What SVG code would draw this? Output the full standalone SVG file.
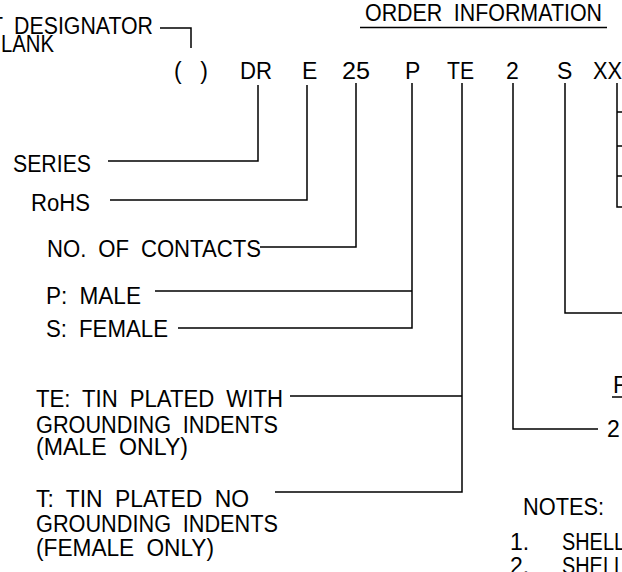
<svg xmlns="http://www.w3.org/2000/svg" width="622" height="572" viewBox="0 0 622 572">
<style>
.t{font-family:"Liberation Sans",Arial,sans-serif;font-size:23px;fill:#000;word-spacing:6px}
.c{fill:none;stroke:#000;stroke-width:1.5}
</style>
<rect width="622" height="572" fill="#fff"/>
<g id="connectors" class="c">
<path d="M160,28 H191 V48"/>
<path d="M258,85 V161 H108"/>
<path d="M307,85 V200 H110"/>
<path d="M356,83 V247 H260"/>
<path d="M412,83 V328 H178 M155,291 H412"/>
<path d="M462,83 V492 H275 M290,396 H462"/>
<path d="M513,83 V429 H598"/>
<path d="M565,83 V313 H622"/>
<path d="M617,83 V207 H622 M617,112 H622 M617,146 H622 M617,176 H622"/>
<path d="M360,27.5 H607"/>
<path d="M612,397 H622"/>
</g>
<g id="designator"><text class="t" x="-10" y="34" textLength="163" lengthAdjust="spacingAndGlyphs">T DESIGNATOR</text><text class="t" x="1" y="52" textLength="53" lengthAdjust="spacingAndGlyphs">LANK</text></g>
<g id="title"><text class="t" x="365" y="21" textLength="237" lengthAdjust="spacingAndGlyphs">ORDER INFORMATION</text></g>
<g id="code">
<text class="t" x="174" y="79" textLength="34">( )</text>
<text class="t" x="240" y="79" textLength="32" lengthAdjust="spacingAndGlyphs">DR</text>
<text class="t" x="302" y="79">E</text>
<text class="t" x="342" y="79" textLength="28" lengthAdjust="spacingAndGlyphs">25</text>
<text class="t" x="405" y="79">P</text>
<text class="t" x="447" y="79" textLength="27" lengthAdjust="spacingAndGlyphs">TE</text>
<text class="t" x="506" y="79">2</text>
<text class="t" x="557" y="79">S</text>
<text class="t" x="593" y="79" textLength="29" lengthAdjust="spacingAndGlyphs">XX</text>
</g>
<g id="series"><text class="t" x="13" y="172" textLength="78" lengthAdjust="spacingAndGlyphs">SERIES</text></g>
<g id="rohs"><text class="t" x="31" y="211" textLength="59" lengthAdjust="spacingAndGlyphs">RoHS</text></g>
<g id="contacts"><text class="t" x="47" y="257" textLength="214" lengthAdjust="spacingAndGlyphs">NO. OF CONTACTS</text></g>
<g id="gender">
<text class="t" x="46" y="304" textLength="95" lengthAdjust="spacingAndGlyphs">P: MALE</text>
<text class="t" x="46" y="337" textLength="122" lengthAdjust="spacingAndGlyphs">S: FEMALE</text>
</g>
<g id="plating-te">
<text class="t" x="36" y="407" textLength="247" lengthAdjust="spacingAndGlyphs">TE: TIN PLATED WITH</text>
<text class="t" x="36" y="433" textLength="242" lengthAdjust="spacingAndGlyphs">GROUNDING INDENTS</text>
<text class="t" x="36" y="455" textLength="152" lengthAdjust="spacingAndGlyphs">(MALE ONLY)</text>
</g>
<g id="plating-t">
<text class="t" x="36" y="507" textLength="213" lengthAdjust="spacingAndGlyphs">T: TIN PLATED NO</text>
<text class="t" x="36" y="532" textLength="242" lengthAdjust="spacingAndGlyphs">GROUNDING INDENTS</text>
<text class="t" x="36" y="556" textLength="178" lengthAdjust="spacingAndGlyphs">(FEMALE ONLY)</text>
</g>
<g id="right-block">
<text class="t" x="613" y="393">F</text>
<text class="t" x="607" y="437">2</text>
</g>
<g id="notes">
<text class="t" x="523" y="515" textLength="81" lengthAdjust="spacingAndGlyphs">NOTES:</text>
<text class="t" x="510" y="550">1.</text>
<text class="t" x="562" y="550" textLength="63" lengthAdjust="spacingAndGlyphs">SHELL</text>
<text class="t" x="510" y="574">2.</text>
<text class="t" x="562" y="574" textLength="63" lengthAdjust="spacingAndGlyphs">SHELL</text>
</g>
</svg>
